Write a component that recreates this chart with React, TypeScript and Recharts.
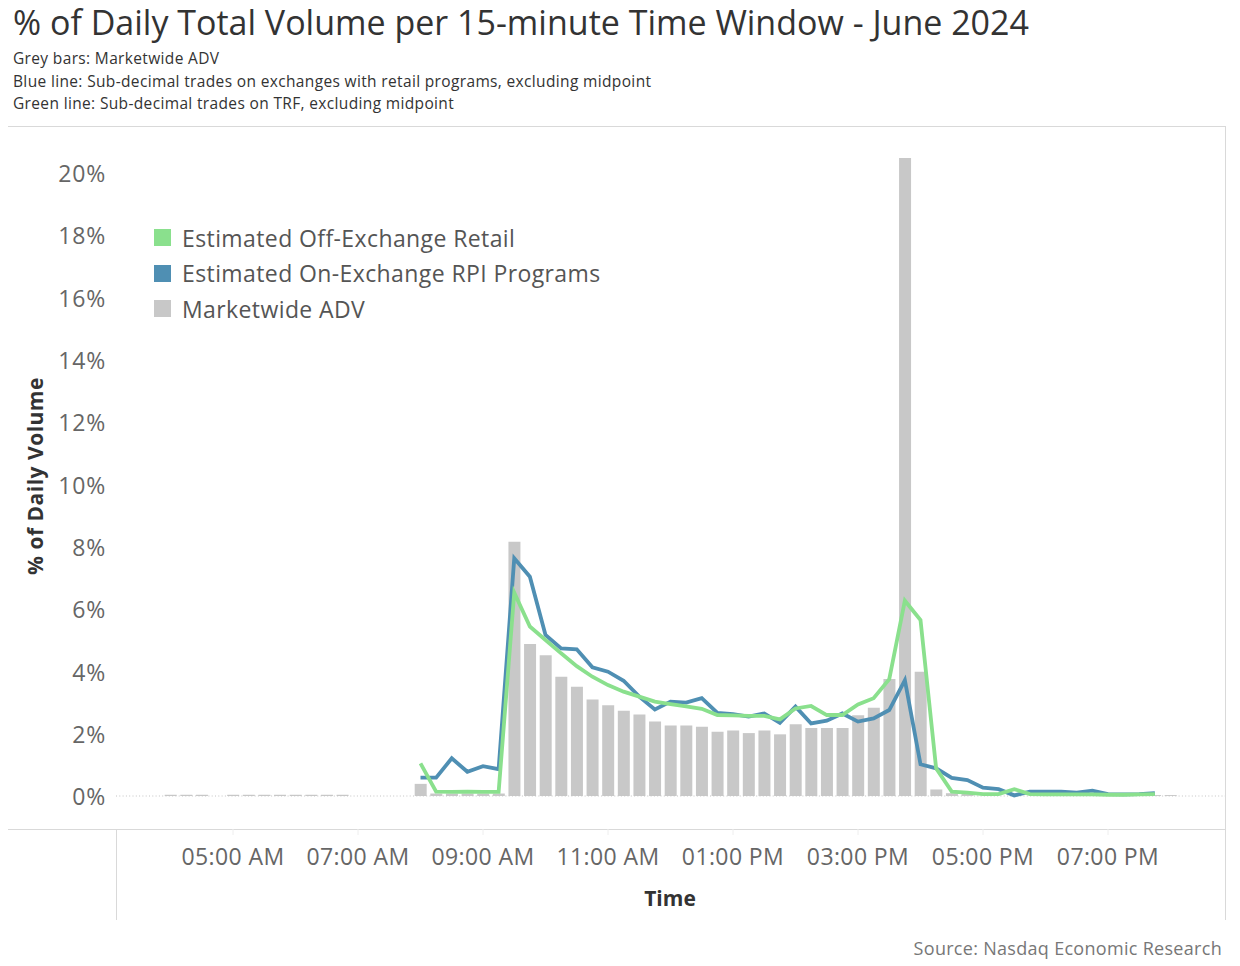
import React from 'react';
import { ComposedChart, Bar, Line, XAxis, YAxis, ReferenceLine, Legend } from 'recharts';

// 15-minute windows, June 2024
const times = [
  '04:00', '04:15', '04:30', '04:45', '05:00', '05:15', '05:30', '05:45',
  '06:00', '06:15', '06:30', '06:45', '07:00', '07:15', '07:30', '07:45',
  '08:00', '08:15', '08:30', '08:45', '09:00', '09:15', '09:30', '09:45',
  '10:00', '10:15', '10:30', '10:45', '11:00', '11:15', '11:30', '11:45',
  '12:00', '12:15', '12:30', '12:45', '13:00', '13:15', '13:30', '13:45',
  '14:00', '14:15', '14:30', '14:45', '15:00', '15:15', '15:30', '15:45',
  '16:00', '16:15', '16:30', '16:45', '17:00', '17:15', '17:30', '17:45',
  '18:00', '18:15', '18:30', '18:45', '19:00', '19:15', '19:30', '19:45',
  '20:00',
];

// grey bars
const marketwideAdv = [
  0.04, 0.04, 0.04, null, 0.04, 0.04, 0.04, 0.04,
  0.04, 0.04, 0.04, 0.04, null, null, null, null,
  0.39, 0.08, 0.08, 0.08, 0.08, 0.08, 8.16, 4.88,
  4.52, 3.83, 3.51, 3.1, 2.91, 2.74, 2.62, 2.39,
  2.26, 2.26, 2.22, 2.06, 2.1, 2.02, 2.1, 1.98,
  2.3, 2.18, 2.18, 2.18, 2.59, 2.83, 3.76, 20.48,
  3.99, 0.21, 0.09, 0.07, null, null, null, null,
  null, null, null, null, null, null, null, 0.03,
  0.03,
];

// green line
const offExchangeRetail = [
  null, null, null, null, null, null, null, null,
  null, null, null, null, null, null, null, null,
  1.05, 0.14, 0.13, 0.14, 0.13, 0.13, 6.53, 5.44,
  5.01, 4.58, 4.17, 3.83, 3.56, 3.35, 3.19, 3.03,
  2.95, 2.88, 2.8, 2.6, 2.59, 2.57, 2.57, 2.46,
  2.81, 2.89, 2.6, 2.6, 2.94, 3.14, 3.75, 6.27,
  5.65, 0.89, 0.14, 0.11, 0.06, 0.06, 0.22, 0.06,
  0.05, 0.05, 0.05, 0.05, 0.04, 0.04, 0.05, 0.06,
  null,
];

// blue line
const onExchangeRpi = [
  null, null, null, null, null, null, null, null,
  null, null, null, null, null, null, null, null,
  0.59, 0.59, 1.21, 0.78, 0.96, 0.86, 7.63, 7.04,
  5.17, 4.74, 4.71, 4.13, 3.99, 3.7, 3.19, 2.78,
  3.03, 3.0, 3.14, 2.67, 2.63, 2.55, 2.65, 2.35,
  2.87, 2.33, 2.42, 2.65, 2.39, 2.49, 2.76, 3.72,
  1.02, 0.89, 0.58, 0.51, 0.27, 0.22, 0.02, 0.14,
  0.14, 0.14, 0.11, 0.17, 0.06, 0.05, 0.06, 0.09,
  null,
];

const xTicks = ['05:00', '07:00', '09:00', '11:00', '13:00', '15:00', '17:00', '19:00'];
const yTicks = [0, 2, 4, 6, 8, 10, 12, 14, 16, 18, 20];

const GREEN = '#8ae08d';
const BLUE = '#4f8fb3';
const GREY = '#c8c8c8';
const FONT = '"Open Sans", "DejaVu Sans", sans-serif';

const toHours = (s: string) => {
  const [h, m] = s.split(':').map(Number);
  return h + m / 60;
};

const data = times.map((t, i) => ({
  t: toHours(t),
  adv: marketwideAdv[i],
  off: offExchangeRetail[i],
  on: onExchangeRpi[i],
}));

const fmtTime = (v: number) => {
  const h = Math.floor(v + 1e-6);
  const suffix = h >= 12 ? 'PM' : 'AM';
  const h12 = h % 12 === 0 ? 12 : h % 12;
  return `${String(h12).padStart(2, '0')}:00 ${suffix}`;
};

const legendItems = [
  { label: 'Estimated Off-Exchange Retail', color: GREEN },
  { label: 'Estimated On-Exchange RPI Programs', color: BLUE },
  { label: 'Marketwide ADV', color: GREY },
];

function LegendBox() {
  return (
    <div>
      {legendItems.map((it) => (
        <div key={it.label} style={{ display: 'flex', alignItems: 'center', height: 35.5 }}>
          <span style={{ width: 17, height: 17, background: it.color, display: 'inline-block', marginRight: 11 }} />
          <span style={{ fontSize: 23, letterSpacing: 0.4, color: '#555', whiteSpace: 'nowrap' }}>{it.label}</span>
        </div>
      ))}
    </div>
  );
}

const rule = '#d9d9d9';

export default function App() {
  return (
    <div style={{ position: 'relative', width: 1224, height: 958, fontFamily: FONT, color: '#333' }}>
      <div style={{ position: 'absolute', left: 5, top: -9, fontSize: 34, whiteSpace: 'nowrap', color: '#333' }}>
        % of Daily Total Volume per 15-minute Time Window - June 2024
      </div>
      <div style={{ position: 'absolute', left: 5, top: 39, fontSize: 15.5, letterSpacing: 0.35, lineHeight: '22.5px', color: '#333' }}>
        <div>Grey bars: Marketwide ADV</div>
        <div>Blue line: Sub-decimal trades on exchanges with retail programs, excluding midpoint</div>
        <div>Green line: Sub-decimal trades on TRF, excluding midpoint</div>
      </div>

      {/* frame lines */}
      <div style={{ position: 'absolute', left: 0, top: 118, width: 1217, height: 1, background: rule }} />
      <div style={{ position: 'absolute', left: 1217, top: 118, width: 1, height: 794, background: rule }} />
      <div style={{ position: 'absolute', left: 0, top: 821, width: 1217, height: 1, background: rule }} />
      <div style={{ position: 'absolute', left: 108, top: 821, width: 1, height: 91, background: rule }} />

      <div style={{ position: 'absolute', top: 118, left: 0 }}>
        <ComposedChart width={1224} height={794} data={data} margin={{ top: 0, right: 7, bottom: 0, left: 0 }}>
          <XAxis
            dataKey="t"
            type="number"
            domain={[3.128, 20.872]}
            ticks={xTicks.map(toHours)}
            tickFormatter={fmtTime}
            height={91}
            axisLine={false}
            tickLine={{ stroke: '#eee' }}
            tickSize={6}
            tickMargin={14}
            tick={{ fontSize: 23, fill: '#666', fontFamily: FONT, letterSpacing: 0.4 }}
            interval={0}
          />
          <YAxis
            type="number"
            domain={[-1.059, 21.509]}
            ticks={yTicks}
            tickFormatter={(v: number) => `${v}%`}
            width={108}
            axisLine={false}
            tickLine={false}
            tickSize={6}
            tickMargin={4}
            tick={{ fontSize: 23, fill: '#666', fontFamily: FONT, letterSpacing: 0.8, dy: 1 }}
            allowDataOverflow
          />
          <ReferenceLine y={0} stroke="#c4c4c4" strokeDasharray="1 2.3" />
          <Legend
            layout="vertical"
            align="center"
            verticalAlign="middle"
            content={<LegendBox />}
            wrapperStyle={{ position: 'absolute', left: 146, top: 94, width: 'auto', height: 'auto' }}
          />
          <Bar dataKey="adv" name="Marketwide ADV" fill={GREY} barSize={12} isAnimationActive={false} legendType="square" />
          <Line dataKey="on" name="Estimated On-Exchange RPI Programs" stroke={BLUE} strokeWidth={3.8} dot={false} isAnimationActive={false} />
          <Line dataKey="off" name="Estimated Off-Exchange Retail" stroke={GREEN} strokeWidth={3.8} dot={false} isAnimationActive={false} />
        </ComposedChart>
      </div>

      <div
        style={{
          position: 'absolute', left: 27, top: 468, transform: 'translate(-50%, -50%) rotate(-90deg)',
          fontSize: 21, letterSpacing: 0.5, fontWeight: 700, color: '#333', whiteSpace: 'nowrap',
        }}
      >
        % of Daily Volume
      </div>
      <div style={{ position: 'absolute', left: 662, top: 890, transform: 'translate(-50%, -50%)', fontSize: 21, fontWeight: 700, color: '#333' }}>
        Time
      </div>
      <div style={{ position: 'absolute', right: 10, top: 928, fontSize: 18, letterSpacing: 0.3, color: '#777', whiteSpace: 'nowrap' }}>
        Source: Nasdaq Economic Research
      </div>
    </div>
  );
}
